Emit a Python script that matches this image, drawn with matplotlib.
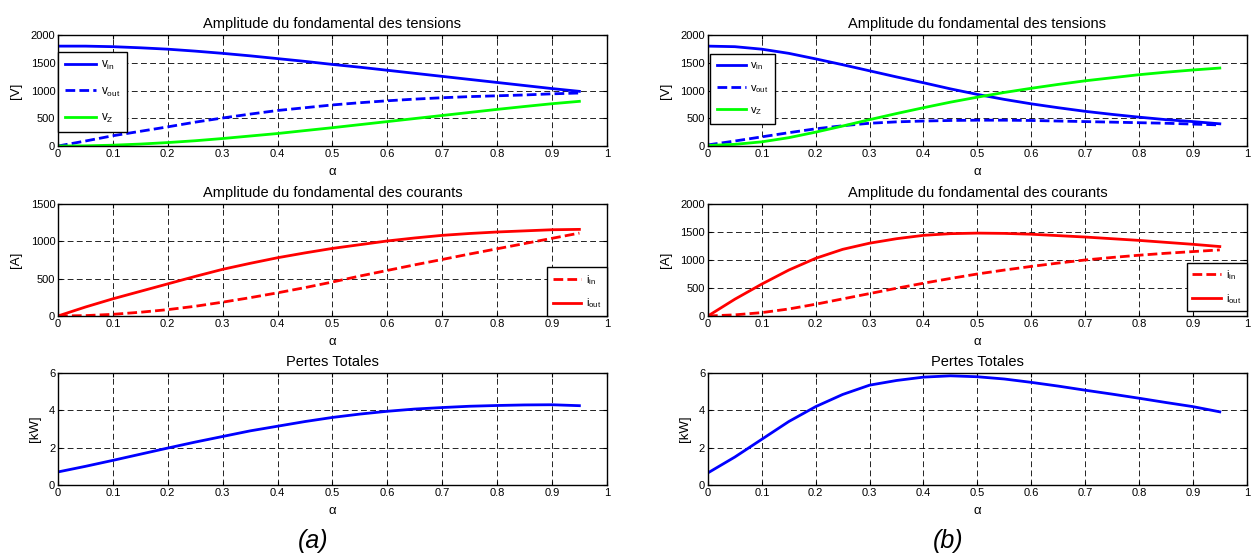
import numpy as np
import matplotlib
matplotlib.use("Agg")
import matplotlib.pyplot as plt

plt.rcParams['font.family'] = ['Liberation Sans', 'DejaVu Sans']
plt.rcParams['mathtext.fontset'] = 'custom'
plt.rcParams['mathtext.rm'] = 'Liberation Sans'
plt.rcParams['mathtext.it'] = 'Liberation Sans'

alpha = [0, 0.05, 0.1, 0.15, 0.2, 0.25, 0.3, 0.35, 0.4, 0.45,
         0.5, 0.55, 0.6, 0.65, 0.7, 0.75, 0.8, 0.85, 0.9, 0.95]

# (a)
a_vin = [1800, 1800, 1790, 1770, 1745, 1710, 1670, 1625, 1575, 1525,
         1470, 1420, 1365, 1310, 1255, 1200, 1145, 1090, 1035, 985]
a_vout = [0, 90, 185, 265, 345, 430, 505, 575, 640, 690,
          740, 780, 815, 845, 870, 890, 905, 920, 940, 955]
a_vz = [0, 3, 15, 35, 62, 95, 135, 180, 225, 278,
        330, 385, 440, 495, 550, 605, 660, 712, 762, 805]
a_iin = [0, 5, 22, 50, 85, 130, 185, 245, 310, 380,
         455, 535, 610, 685, 757, 830, 900, 970, 1040, 1110]
a_iout = [0, 120, 230, 330, 430, 530, 625, 705, 780, 845,
          905, 955, 1005, 1045, 1080, 1105, 1125, 1140, 1155, 1160]
a_loss = [0.7, 1.0, 1.32, 1.65, 1.98, 2.3, 2.6, 2.9, 3.15, 3.4,
          3.62, 3.8, 3.95, 4.07, 4.15, 4.22, 4.26, 4.29, 4.3, 4.25]

# (b)
b_vin = [1800, 1790, 1745, 1670, 1570, 1465, 1355, 1245, 1140, 1030,
         930, 840, 760, 690, 625, 570, 520, 475, 440, 400]
b_vout = [20, 90, 165, 240, 310, 365, 410, 435, 450, 460,
          465, 465, 460, 450, 440, 430, 420, 410, 395, 380]
b_vz = [10, 30, 75, 150, 250, 360, 475, 585, 690, 790,
        880, 965, 1040, 1110, 1175, 1230, 1285, 1330, 1370, 1405]
b_iin = [0, 20, 60, 125, 210, 305, 400, 495, 585, 670,
         750, 820, 885, 945, 1000, 1045, 1085, 1120, 1150, 1180]
b_iout = [0, 300, 570, 820, 1030, 1190, 1300, 1380, 1440, 1470,
          1480, 1475, 1460, 1435, 1410, 1380, 1350, 1315, 1280, 1240]
b_loss = [0.65, 1.5, 2.45, 3.4, 4.2, 4.85, 5.35, 5.6, 5.78, 5.85,
          5.8, 5.68, 5.5, 5.3, 5.08, 4.87, 4.65, 4.42, 4.2, 3.92]

xticks = [0, 0.1, 0.2, 0.3, 0.4, 0.5, 0.6, 0.7, 0.8, 0.9, 1]
xlabels = ['0', '0.1', '0.2', '0.3', '0.4', '0.5', '0.6', '0.7', '0.8', '0.9', '1']

BLUE = (0, 0, 1)
GREEN = (0, 1, 0)
RED = (1, 0, 0)
LW = 2.0
DASH = (0, (3.5, 1.5))

fig = plt.figure(figsize=(12.53, 5.56), dpi=100)

cols = [(0.0463, 0.438), (0.565, 0.430)]
rows = [(0.7374, 0.1996), (0.4317, 0.2014), (0.1277, 0.2014)]


def style(ax, title, ylabel, ylim, yticks):
    ax.set_xlim(0, 1)
    ax.set_ylim(*ylim)
    ax.set_xticks(xticks)
    ax.set_xticklabels(xlabels)
    ax.set_yticks(yticks)
    ax.tick_params(direction='in', length=3, width=0.8, labelsize=8,
                   top=True, right=True, pad=2)
    ax.grid(True, color='k', linestyle=(0, (7, 4)), linewidth=0.6)
    for s in ax.spines.values():
        s.set_linewidth(1.0)
    ax.set_title(title, fontsize=10.5, pad=5)
    ax.set_xlabel('\u03b1', fontsize=9.5, labelpad=5)
    ax.set_ylabel(ylabel, fontsize=9.5, labelpad=6)


data = [
    (a_vin, a_vout, a_vz, a_iin, a_iout, a_loss, (0, 1500), [0, 500, 1000, 1500]),
    (b_vin, b_vout, b_vz, b_iin, b_iout, b_loss, (0, 2000), [0, 500, 1000, 1500, 2000]),
]
leg1_anchor = [(0.0, 0.85), (0.004, 0.83)]
leg1_font = [8.5, 8]
leg1_space = [1.15, 0.95]
leg2_anchor = [(1.0, 0.0), (1.0, 0.04)]

for k, (vin, vout, vz, iin, iout, loss, ilim, iticks) in enumerate(data):
    x0, w = cols[k]

    ax = fig.add_axes([x0, rows[0][0], w, rows[0][1]])
    ax.plot(alpha, vin, color=BLUE, lw=LW, label='v$_{\\mathrm{in}}$')
    ax.plot(alpha, vout, color=BLUE, lw=LW, ls=DASH, label='v$_{\\mathrm{out}}$')
    ax.plot(alpha, vz, color=GREEN, lw=LW, label='v$_{\\mathrm{Z}}$')
    style(ax, 'Amplitude du fondamental des tensions', '[V]', (0, 2000),
          [0, 500, 1000, 1500, 2000])
    leg = ax.legend(loc='upper left', bbox_to_anchor=leg1_anchor[k], borderaxespad=0,
                    fontsize=leg1_font[k], fancybox=False, edgecolor='k', framealpha=1,
                    handlelength=2.6, labelspacing=leg1_space[k], handletextpad=0.4,
                    borderpad=0.6)
    leg.get_frame().set_linewidth(1.0)

    ax = fig.add_axes([x0, rows[1][0], w, rows[1][1]])
    ax.plot(alpha, iin, color=RED, lw=LW, ls=DASH, label='i$_{\\mathrm{in}}$')
    ax.plot(alpha, iout, color=RED, lw=LW, label='i$_{\\mathrm{out}}$')
    style(ax, 'Amplitude du fondamental des courants', '[A]', ilim, iticks)
    leg = ax.legend(loc='lower right', bbox_to_anchor=leg2_anchor[k], borderaxespad=0,
                    fontsize=8, fancybox=False, edgecolor='k', framealpha=1,
                    handlelength=2.6, labelspacing=0.9, handletextpad=0.4,
                    borderpad=0.5)
    leg.get_frame().set_linewidth(1.0)

    ax = fig.add_axes([x0, rows[2][0], w, rows[2][1]])
    ax.plot(alpha, loss, color=BLUE, lw=LW)
    style(ax, 'Pertes Totales', '[kW]', (0, 6), [0, 2, 4, 6])

fig.text(313 / 1253, 1 - 541 / 556, '(a)', fontsize=18, style='italic',
         ha='center', va='center')
fig.text(948 / 1253, 1 - 541 / 556, '(b)', fontsize=18, style='italic',
         ha='center', va='center')

fig.savefig('out.png', dpi=100)
